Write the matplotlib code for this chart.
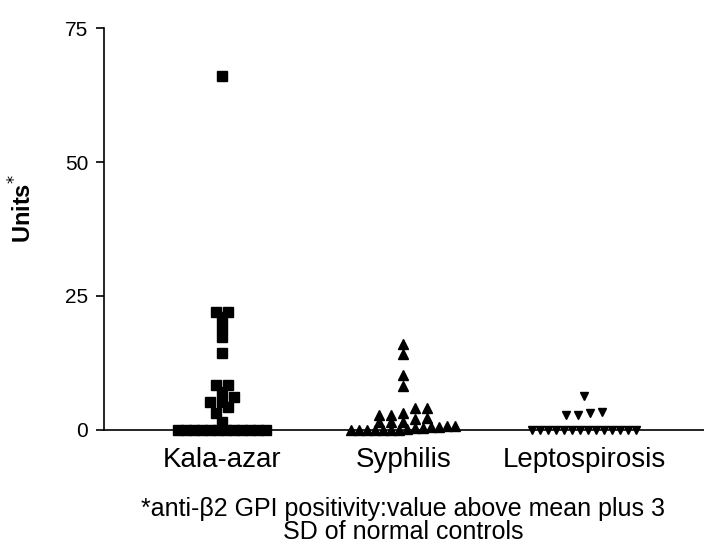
import numpy as np
import matplotlib
matplotlib.use("Agg")
import matplotlib.pyplot as plt

plt.rcParams['font.family'] = ['Liberation Sans', 'DejaVu Sans']

# values (units)
categories = ['Kala-azar', 'Syphilis', 'Leptospirosis']
kala_azar = [66, 22, 21, 22, 19.2, 17.3, 14.4, 8.4, 8.4, 7.1, 6.2, 5.2, 5.2, 4.3, 3.2, 1.5,
             0, 0, 0, 0, 0, 0, 0, 0, 0, 0, 0, 0]
syphilis = [16, 14.2, 10.3, 8.2, 4.1, 4.1, 2.8, 2.8, 3.2, 2.2, 2.0, 1.5, 1.5, 1.5,
            0.8, 0.5, 0.3, 0.6, 0, 0, 0, 0.4, 0, 0, 0.7, 0, 0.2, 0]
leptospirosis = [6.3, 3.4, 3.2, 2.8, 2.8,
                 0, 0, 0, 0, 0, 0, 0, 0, 0, 0, 0, 0, 0, 0]
groups = [kala_azar, syphilis, leptospirosis]
markers = ['s', '^', 'v']
msizes = [7.2, 7.0, 6.0]

fig = plt.figure(figsize=(7.04, 5.44), dpi=100)
ax = fig.add_axes([0.148, 0.2096, 0.852, 0.7389])
ax.set_xlim(-0.652, 2.66)
ax.set_ylim(0, 75)

# pixels per data unit, so points of close value can be laid side by side
p0 = ax.transData.transform((0, 0))
p1 = ax.transData.transform((1, 1))
ppx, ppy = p1[0] - p0[0], p1[1] - p0[1]


def spread(values, row_h=10.0, step0=8.0, step=12.0):
    # column scatter: bin values into rows one marker high, centre each row
    rows = np.round(np.asarray(values) * ppy / row_h).astype(int)
    offs = np.zeros(len(values))
    for r in np.unique(rows):
        idx = np.where(rows == r)[0]
        idx = idx[np.argsort(np.asarray(values)[idx], kind='stable')]
        st = step0 if r == 0 else step
        n = len(idx)
        for j, i in enumerate(idx):
            offs[i] = (j - (n - 1) / 2) * st / ppx
    return offs


for i, vals in enumerate(groups):
    vals = np.array(vals, dtype=float)
    xs = i + spread(vals)
    ax.plot(xs, vals, linestyle='none', marker=markers[i], ms=msizes[i],
            color='black', mec='black', clip_on=False, zorder=3)

for s in ['top', 'right']:
    ax.spines[s].set_visible(False)
for s in ['left', 'bottom']:
    ax.spines[s].set_linewidth(1.2)

ax.set_yticks([0, 25, 50, 75])
ax.tick_params(axis='y', length=5.5, width=1.2, labelsize=15, pad=6)
ax.set_xticks(range(len(categories)))
ax.set_xticklabels(categories)
ax.tick_params(axis='x', length=0, labelsize=20, pad=12)

ax.set_ylabel(r'Units$^{*}$', fontsize=17, fontweight='bold')
ax.yaxis.set_label_coords(-0.112, 0.552)

fig.text(403 / 704, 1 - 516 / 544, '*anti-\u03b22 GPI positivity:value above mean plus 3',
         ha='center', va='baseline', fontsize=18)
fig.text(403 / 704, 1 - 539 / 544, 'SD of normal controls',
         ha='center', va='baseline', fontsize=18)

fig.savefig('out.png', dpi=100)
